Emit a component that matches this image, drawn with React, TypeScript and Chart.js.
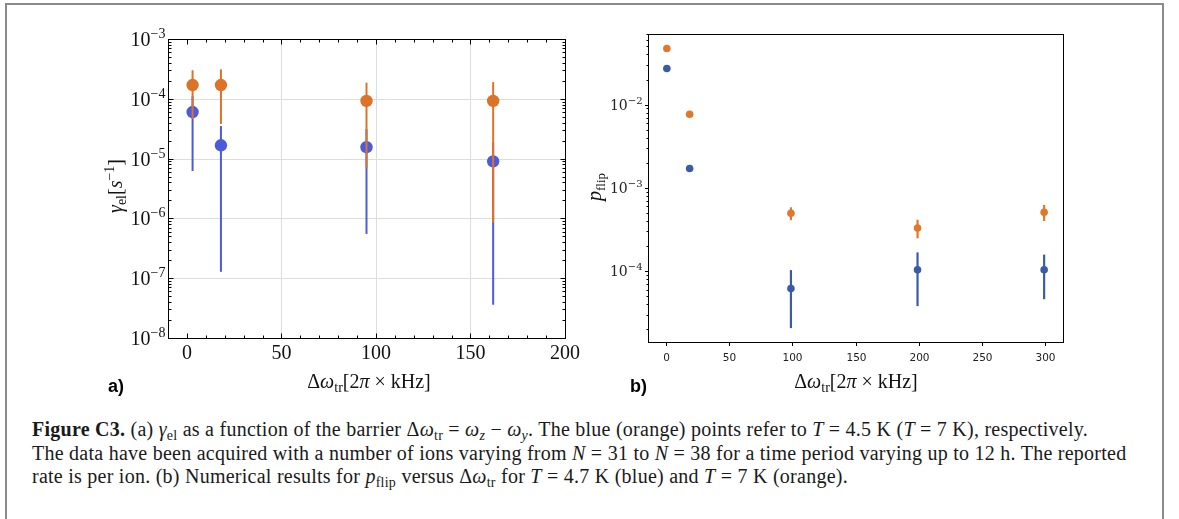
import React, { useEffect, useRef } from "react";
import { Chart, registerables } from "chart.js";
Chart.register(...registerables);

// ---------- Panel a data ----------
const aX = [3, 18, 95, 162];
const aBlueY = [6.0e-5, 1.67e-5, 1.55e-5, 9.0e-6];
const aBlueLow = [6.2e-6, 1.28e-7, 5.5e-7, 3.6e-8];
const aBlueHigh = [1.1e-4, 3.5e-5, 3.1e-5, 1.85e-5];
const aOrangeY = [1.7e-4, 1.7e-4, 9.2e-5, 9.2e-5];
const aOrangeLow = [4.6e-5, 3.8e-5, 7.0e-6, 8.5e-7];
const aOrangeHigh = [3.0e-4, 3.1e-4, 1.86e-4, 1.9e-4];
const aXTicks = [0, 50, 100, 150, 200];
const aXGrid = [50, 100, 150];
const aYExps = [-8, -7, -6, -5, -4, -3];

// ---------- Panel b data ----------
const bX = [1, 19, 99, 199, 299];
const bBlueY = [0.0272, 1.71e-3, 6.2e-5, 1.04e-4, 1.04e-4];
const bBlueLow = [0.0268, 1.6e-3, 2.07e-5, 3.8e-5, 4.6e-5];
const bBlueHigh = [0.0276, 1.82e-3, 1.03e-4, 1.68e-4, 1.58e-4];
const bOrangeY = [0.0473, 7.65e-3, 4.96e-4, 3.3e-4, 5.1e-4];
const bOrangeLow = [0.0468, 7.55e-3, 4.1e-4, 2.48e-4, 4.0e-4];
const bOrangeHigh = [0.0478, 7.75e-3, 5.85e-4, 4.14e-4, 6.24e-4];
const bXTicks = [0, 50, 100, 150, 200, 250, 300];
const bYExps = [-4, -3, -2];

const A_BLUE = "#4b5bdc";
const A_ORANGE = "#dc7326";
const B_BLUE = "#3a5ba6";
const B_ORANGE = "#e1772a";

const SERIF = "'Liberation Serif', 'DejaVu Serif', serif";

type Seg = { t: string; font: string; dy?: number };

function drawRich(ctx: CanvasRenderingContext2D, segs: Seg[], x: number, y: number, align: string) {
  let w = 0;
  for (const s of segs) {
    ctx.font = s.font;
    w += ctx.measureText(s.t).width;
  }
  let cx = align === "left" ? x : align === "center" ? x - w / 2 : x - w;
  ctx.textAlign = "left";
  ctx.textBaseline = "alphabetic";
  for (const s of segs) {
    ctx.font = s.font;
    ctx.fillText(s.t, cx, y + (s.dy || 0));
    cx += ctx.measureText(s.t).width;
  }
}

function line(ctx: CanvasRenderingContext2D, x1: number, y1: number, x2: number, y2: number) {
  ctx.beginPath();
  ctx.moveTo(x1, y1);
  ctx.lineTo(x2, y2);
  ctx.stroke();
}

const errorBars = {
  id: "errorBars",
  beforeDatasetDraw(chart: any, args: any) {
    const ds = chart.data.datasets[args.index];
    if (!ds.errLow) return;
    const { ctx, scales } = chart;
    ctx.save();
    ctx.strokeStyle = ds.backgroundColor;
    ctx.lineWidth = ds.errWidth || 2;
    ctx.lineCap = "butt";
    ds.data.forEach((p: any, i: number) => {
      const px = scales.x.getPixelForValue(p.x);
      line(ctx, px, scales.y.getPixelForValue(ds.errLow[i]), px, scales.y.getPixelForValue(ds.errHigh[i]));
    });
    ctx.restore();
  },
};

const xTitleSegs = (): Seg[] => [
  { t: "Δ", font: `20px ${SERIF}` },
  { t: "ω", font: `italic 20px ${SERIF}` },
  { t: "tr", font: `14px ${SERIF}`, dy: 4 },
  { t: "[2", font: `20px ${SERIF}` },
  { t: "π", font: `italic 20px ${SERIF}` },
  { t: " × kHz]", font: `20px ${SERIF}` },
];

const panelAPlugin = {
  id: "panelA",
  beforeDatasetsDraw(chart: any) {
    const { ctx, chartArea: ca, scales } = chart;
    ctx.save();
    ctx.strokeStyle = "#dddddd";
    ctx.lineWidth = 1;
    for (const v of aXGrid) {
      const px = Math.round(scales.x.getPixelForValue(v)) + 0.5;
      line(ctx, px, ca.top, px, ca.bottom);
    }
    for (const e of aYExps) {
      if (e === aYExps[0] || e === aYExps[aYExps.length - 1]) continue;
      const py = Math.round(scales.y.getPixelForValue(Math.pow(10, e))) + 0.5;
      line(ctx, ca.left, py, ca.right, py);
    }
    ctx.restore();
  },
  afterDraw(chart: any) {
    const { ctx, chartArea: ca, scales } = chart;
    const L = Math.round(ca.left) + 0.5, R = Math.round(ca.right) + 0.5;
    const T = Math.round(ca.top) + 0.5, B = Math.round(ca.bottom) + 0.5;
    ctx.save();
    ctx.strokeStyle = "#000";
    ctx.lineWidth = 1;
    ctx.strokeRect(L, T, R - L, B - T);
    // x ticks (inside, bottom and top)
    for (let v = -10; v <= 200; v += 10) {
      const px = Math.round(scales.x.getPixelForValue(v)) + 0.5;
      const len = aXTicks.includes(v) ? 5 : 3;
      line(ctx, px, B, px, B - len);
      line(ctx, px, T, px, T + len);
    }
    // y ticks (inside, left and right)
    for (const e of aYExps) {
      for (let k = 1; k <= 9; k++) {
        if (e === aYExps[aYExps.length - 1] && k > 1) break;
        const py = Math.round(scales.y.getPixelForValue(k * Math.pow(10, e))) + 0.5;
        const len = k === 1 ? 5 : 3;
        line(ctx, L, py, L + len, py);
        line(ctx, R, py, R - len, py);
      }
    }
    ctx.fillStyle = "#111";
    // x tick labels
    ctx.font = `20px ${SERIF}`;
    ctx.textAlign = "center";
    ctx.textBaseline = "alphabetic";
    for (const v of aXTicks) {
      ctx.fillText(String(v), scales.x.getPixelForValue(v), B + 20);
    }
    // y tick labels
    for (const e of aYExps) {
      const py = scales.y.getPixelForValue(Math.pow(10, e));
      drawRich(ctx, [
        { t: "10", font: `20px ${SERIF}` },
        { t: "−" + Math.abs(e), font: `14px ${SERIF}`, dy: -8 },
      ], L - 3, py + 7, "right");
    }
    // x title
    drawRich(ctx, xTitleSegs(), (L + R) / 2 + 2, 388 - 20, "center");
    // y title (rotated)
    ctx.save();
    ctx.translate(122 - 60, 186 - 20);
    ctx.rotate(-Math.PI / 2);
    drawRich(ctx, [
      { t: "γ", font: `italic 20px ${SERIF}` },
      { t: "el", font: `14px ${SERIF}`, dy: 4 },
      { t: "[", font: `20px ${SERIF}` },
      { t: "s", font: `italic 20px ${SERIF}` },
      { t: "−1", font: `14px ${SERIF}`, dy: -8 },
      { t: "]", font: `20px ${SERIF}` },
    ], 0, 0, "center");
    ctx.restore();
    // panel letter
    ctx.font = "bold 18px 'Liberation Sans', Arial, sans-serif";
    ctx.textAlign = "left";
    ctx.fillStyle = "#000";
    ctx.fillText("a)", 108 - 60, 392 - 20);
    ctx.restore();
  },
};

const panelBPlugin = {
  id: "panelB",
  afterDraw(chart: any) {
    const { ctx, chartArea: ca, scales } = chart;
    const L = Math.round(ca.left) + 0.5, R = Math.round(ca.right) + 0.5;
    const T = Math.round(ca.top) + 0.5, B = Math.round(ca.bottom) + 0.5;
    ctx.save();
    ctx.strokeStyle = "#000";
    ctx.lineWidth = 1;
    ctx.strokeRect(L, T, R - L, B - T);
    // x ticks outside
    ctx.fillStyle = "#222";
    ctx.font = "10.5px 'DejaVu Sans', sans-serif";
    ctx.textAlign = "center";
    ctx.textBaseline = "alphabetic";
    for (const v of bXTicks) {
      const px = Math.round(scales.x.getPixelForValue(v)) + 0.5;
      line(ctx, px, B, px, B + 3.5);
      ctx.fillText(String(v), px, B + 18);
    }
    // y ticks outside (major + minor)
    const yMin = scales.y.min, yMax = scales.y.max;
    for (let e = -5; e <= -1; e++) {
      for (let k = 1; k <= 9; k++) {
        const v = k * Math.pow(10, e);
        if (v < yMin || v > yMax) continue;
        const py = Math.round(scales.y.getPixelForValue(v)) + 0.5;
        line(ctx, L, py, L - (k === 1 ? 3.5 : 2), py);
      }
    }
    ctx.fillStyle = "#222";
    for (const e of bYExps) {
      const py = scales.y.getPixelForValue(Math.pow(10, e));
      drawRich(ctx, [
        { t: "10", font: `14px 'DejaVu Serif', serif` },
        { t: "−" + Math.abs(e), font: `10px 'DejaVu Serif', serif`, dy: -6 },
      ], L - 6, py + 5, "right");
    }
    // x title
    ctx.fillStyle = "#111";
    drawRich(ctx, xTitleSegs(), (L + R) / 2, 388 - 20, "center");
    // y title
    ctx.save();
    ctx.translate(601 - 580, 187 - 20);
    ctx.rotate(-Math.PI / 2);
    drawRich(ctx, [
      { t: "p", font: `italic 20px ${SERIF}` },
      { t: "flip", font: `13px ${SERIF}`, dy: 4 },
    ], 0, 0, "center");
    ctx.restore();
    ctx.font = "bold 18px 'Liberation Sans', Arial, sans-serif";
    ctx.textAlign = "left";
    ctx.fillStyle = "#000";
    ctx.fillText("b)", 630 - 580, 392 - 20);
    ctx.restore();
  },
};

function mkData(xs: number[], ys: number[]) {
  return xs.map((x, i) => ({ x, y: ys[i] }));
}

function PanelA() {
  const ref = useRef<HTMLCanvasElement>(null);
  useEffect(() => {
    const chart = new Chart(ref.current!, {
      type: "scatter",
      data: {
        datasets: [
          {
            label: "T = 7 K",
            data: mkData(aX, aOrangeY),
            backgroundColor: A_ORANGE,
            borderWidth: 0,
            pointRadius: 6.2,
            order: 0,
            errLow: aOrangeLow,
            errHigh: aOrangeHigh,
            errWidth: 2,
          } as any,
          {
            label: "T = 4.5 K",
            data: mkData(aX, aBlueY),
            backgroundColor: A_BLUE,
            borderWidth: 0,
            pointRadius: 6.2,
            order: 1,
            errLow: aBlueLow,
            errHigh: aBlueHigh,
            errWidth: 2,
          } as any,
        ],
      },
      options: {
        animation: false,
        responsive: false,
        events: [],
        layout: { padding: { left: 108, top: 19, right: 15, bottom: 62 } },
        plugins: { legend: { display: false }, tooltip: { enabled: false } },
        scales: {
          x: { type: "linear", min: -10, max: 200, display: false },
          y: { type: "logarithmic", min: 1e-8, max: 1e-3, display: false },
        },
      },
      plugins: [errorBars, panelAPlugin],
    });
    return () => chart.destroy();
  }, []);
  return <canvas ref={ref} width={520} height={380} style={{ position: "absolute", left: 60, top: 20, width: 520, height: 380 }} />;
}

function PanelB() {
  const ref = useRef<HTMLCanvasElement>(null);
  useEffect(() => {
    const chart = new Chart(ref.current!, {
      type: "scatter",
      data: {
        datasets: [
          {
            label: "T = 7 K",
            data: mkData(bX, bOrangeY),
            backgroundColor: B_ORANGE,
            borderWidth: 0,
            pointRadius: 3.8,
            order: 0,
            errLow: bOrangeLow,
            errHigh: bOrangeHigh,
            errWidth: 2.2,
          } as any,
          {
            label: "T = 4.7 K",
            data: mkData(bX, bBlueY),
            backgroundColor: B_BLUE,
            borderWidth: 0,
            pointRadius: 3.8,
            order: 1,
            errLow: bBlueLow,
            errHigh: bBlueHigh,
            errWidth: 2.2,
          } as any,
        ],
      },
      options: {
        animation: false,
        responsive: false,
        events: [],
        layout: { padding: { left: 68, top: 14, right: 77, bottom: 58 } },
        plugins: { legend: { display: false }, tooltip: { enabled: false } },
        scales: {
          x: { type: "linear", min: -13.9, max: 313.9, display: false },
          y: { type: "logarithmic", min: 1.41e-5, max: 0.0705, display: false },
        },
      },
      plugins: [errorBars, panelBPlugin],
    });
    return () => chart.destroy();
  }, []);
  return <canvas ref={ref} width={560} height={380} style={{ position: "absolute", left: 580, top: 20, width: 560, height: 380 }} />;
}

const subStyle: React.CSSProperties = { fontSize: "0.7em", position: "relative", top: "0.3em", fontStyle: "normal" };
const Sub = ({ children }: { children: any }) => <span style={subStyle}>{children}</span>;
const I = ({ children }: { children: any }) => <i>{children}</i>;

const captionLineStyle = (baseline: number): React.CSSProperties => ({
  position: "absolute",
  left: 32,
  top: baseline - 19,
  whiteSpace: "nowrap",
  fontFamily: SERIF,
  fontSize: 20,
  letterSpacing: "0.25px",
  lineHeight: "24px",
  color: "#1a1a1a",
});

export default function App() {
  return (
    <div style={{ position: "fixed", left: 0, top: 0, width: 1179, height: 519, background: "#fff", overflow: "hidden" }}>
      <div style={{ position: "absolute", left: 5, top: 3, width: 1155, height: 600, borderTop: "2px solid #8a8a8a", borderLeft: "2px solid #8a8a8a", borderRight: "2px solid #8a8a8a" }} />
      <PanelA />
      <PanelB />
      <div style={captionLineStyle(436)}>
        <b>Figure C3.</b> (a) <I>γ</I><Sub>el</Sub> as a function of the barrier Δ<I>ω</I><Sub>tr</Sub> = <I>ω</I><Sub><i>z</i></Sub> − <I>ω</I><Sub><i>y</i></Sub>. The blue (orange) points refer to <I>T</I> = 4.5 K (<I>T</I> = 7 K), respectively.
      </div>
      <div style={captionLineStyle(459.5)}>
        The data have been acquired with a number of ions varying from <I>N</I> = 31 to <I>N</I> = 38 for a time period varying up to 12 h. The reported
      </div>
      <div style={captionLineStyle(483)}>
        rate is per ion. (b) Numerical results for <I>p</I><Sub>flip</Sub> versus Δ<I>ω</I><Sub>tr</Sub> for <I>T</I> = 4.7 K (blue) and <I>T</I> = 7 K (orange).
      </div>
    </div>
  );
}
